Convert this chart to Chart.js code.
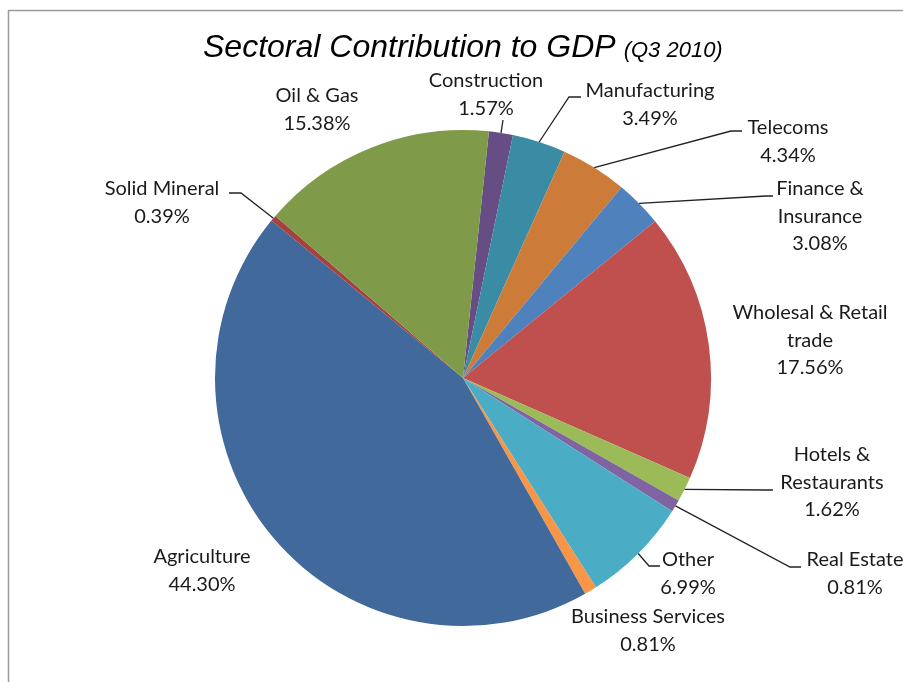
<!DOCTYPE html>
<html>
<head>
<meta charset="utf-8">
<script src="https://cdn.jsdelivr.net/npm/chart.js@4.4.0/dist/chart.umd.min.js"></script>
<style>
  html, body { margin: 0; padding: 0; background: #fff; }
  canvas { display: block; }
</style>
</head>
<body>
<canvas id="gdpChart" width="903" height="682"></canvas>
<script>
// Dados do gráfico
const sectors = [
    'Construction', 'Manufacturing', 'Telecoms', ['Finance &', 'Insurance'],
    ['Wholesal & Retail', 'trade'], ['Hotels &', 'Restaurants'], 'Real Estate', 'Other',
    'Business Services', 'Agriculture', 'Solid Mineral', 'Oil & Gas'
];
const shares = [1.57, 3.49, 4.34, 3.08, 17.56, 1.62, 0.81, 6.99, 0.81, 44.30, 0.39, 15.38];
const sliceColors = ['#664e84', '#3a8ca4', '#cc7b38', '#4f81bd', '#c0504d', '#9bbb59',
    '#8064a2', '#4bacc6', '#f79646', '#41699b', '#a5413e', '#7f9a48'];

// Posição dos rótulos: centro do texto e linha de chamada (tick horizontal, liga ao setor)
const labelLayout = [
    { x: 486, y: 81, lead: [503, 503, 120] },
    { x: 650, y: 91, lead: [581, 569, 97] },
    { x: 788, y: 128, lead: [742, 731, 131] },
    { x: 820, y: 189, lead: [773, 766, 196] },
    { x: 810, y: 313, lead: null },
    { x: 832, y: 455, lead: [773, 766, 490] },
    { x: 855, y: 560, lead: [801, 790, 567] },
    { x: 688, y: 560, lead: [660, 649, 566] },
    { x: 648, y: 617, lead: null },
    { x: 202, y: 557, lead: null },
    { x: 162, y: 189, lead: [229, 241, 193] },
    { x: 317, y: 96, lead: null }
];

const lineGap = 27.5;

const labelsPlugin = {
    id: 'pieLabels',
    afterDatasetsDraw(chart) {
        const ctx = chart.ctx;
        const arcs = chart.getDatasetMeta(0).data;
        ctx.save();
        // linhas de chamada
        ctx.strokeStyle = '#222';
        ctx.lineWidth = 1.3;
        arcs.forEach((arc, i) => {
            const lay = labelLayout[i];
            if (!lay.lead) return;
            const mid = (arc.startAngle + arc.endAngle) / 2;
            const px = arc.x + Math.cos(mid) * arc.outerRadius;
            const py = arc.y + Math.sin(mid) * arc.outerRadius;
            ctx.beginPath();
            ctx.moveTo(lay.lead[0], lay.lead[2]);
            ctx.lineTo(lay.lead[1], lay.lead[2]);
            ctx.lineTo(px, py);
            ctx.stroke();
        });
        // textos
        ctx.fillStyle = '#1a1a1a';
        ctx.font = '20px Lato';
        ctx.textAlign = 'center';
        ctx.textBaseline = 'middle';
        sectors.forEach((name, i) => {
            const lay = labelLayout[i];
            const lines = [].concat(name, shares[i].toFixed(2) + '%');
            lines.forEach((t, k) => ctx.fillText(t, lay.x, lay.y + k * lineGap));
        });
        // título
        ctx.fillStyle = '#000';
        ctx.textAlign = 'left';
        ctx.textBaseline = 'alphabetic';
        ctx.font = 'italic 32px "Liberation Sans"';
        const main = 'Sectoral Contribution to GDP';
        ctx.fillText(main, 203, 57);
        const w = ctx.measureText(main).width;
        ctx.font = 'italic 22px "Liberation Sans"';
        ctx.fillText('(Q3 2010)', 203 + w + 8, 57);
        // moldura
        ctx.strokeStyle = '#9a9a9a';
        ctx.lineWidth = 1.5;
        ctx.strokeRect(8.5, 10.5, 1000, 1000);
        ctx.restore();
    }
};

new Chart(document.getElementById('gdpChart').getContext('2d'), {
    type: 'pie',
    data: {
        labels: sectors,
        datasets: [{
            data: shares,
            backgroundColor: sliceColors,
            borderWidth: 0
        }]
    },
    options: {
        responsive: false,
        devicePixelRatio: 1,
        animation: false,
        rotation: 6,
        layout: { padding: { top: 130, bottom: 56, left: 215, right: 192 } },
        plugins: {
            legend: { display: false },
            tooltip: { enabled: false },
            title: { display: false }
        }
    },
    plugins: [labelsPlugin]
});
</script>
</body>
</html>
